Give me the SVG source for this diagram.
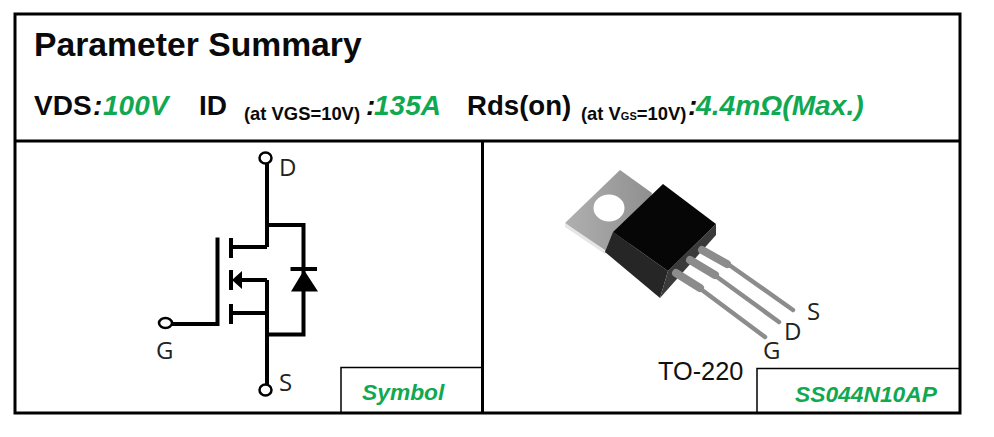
<svg xmlns="http://www.w3.org/2000/svg" width="994" height="437" viewBox="0 0 994 437">
<defs>
<linearGradient id="tab" x1="0" y1="0" x2="1" y2="0"><stop offset="0" stop-color="#b0b0b0"/><stop offset="1" stop-color="#8f8f8f"/></linearGradient>
</defs>
<style>
text{font-family:"Liberation Sans",Arial,sans-serif}
.b{font-weight:700;fill:#0a0a0a}
.g{font-weight:700;font-style:italic;fill:#10a850}
.l{font-family:"Open Sans","Noto Sans",sans-serif;fill:#222;font-size:24px}
.f{fill:none;stroke:#000}
.w{fill:none;stroke:#000;stroke-width:4}
.t{fill:#fff;stroke:#000;stroke-width:2.5}
.lead{fill:none;stroke:#8c8c8c;stroke-linecap:round}
</style>
<rect width="994" height="437" fill="#fff"/>
<g id="frame">
<rect x="15" y="14" width="945" height="399" class="f" stroke-width="3"/>
<path d="M15 141H960M482.500 141V413" class="f" stroke-width="3"/>
<path d="M341 413V367.500H482M757 413V368.500H960" class="f" stroke-width="1.500"/>
</g>
<g id="header">
<text x="34" y="56" class="b" font-size="33.700">Parameter Summary</text>
<text x="34" y="115" class="b" font-size="28">VDS</text>
<text x="93" y="115" class="b" font-size="28" font-style="italic">:</text>
<text x="103" y="115" class="g" font-size="28">100V</text>
<text x="199" y="115" class="b" font-size="28">ID</text>
<text x="244" y="120" class="b" font-size="18.400">(at VGS=10V)</text>
<text x="366" y="115" class="b" font-size="28" font-style="italic">:</text>
<text x="374" y="115" class="g" font-size="28">135A</text>
<text x="467" y="115" class="b" font-size="27.600">Rds(on)</text>
<text x="581" y="120" class="b" font-size="18.400">(at V<tspan font-size="11">GS</tspan>=10V)</text>
<text x="688" y="115" class="b" font-size="28" font-style="italic">:</text>
<text x="696" y="115" class="g" font-size="28.200">4.4mΩ(Max.)</text>
</g>
<g id="connectors">
<path class="w" d="M267 163V247M267 225H303.500V334.500H267M267 247H232.500M267 280H234M267 313H232.500M267 280V385"/>
<path class="w" d="M217.500 237.500V324H172"/>
<path class="w" d="M231 238V258M231 270V290M231 304V324"/>
<path class="w" d="M290.500 269H317"/>
</g>
<g id="symbol">
<path d="M232 280L242 271V289Z M304 270L318 291.500H291Z" fill="#000"/>
<ellipse id="node-d" class="t" cx="265.500" cy="158" rx="6" ry="5.500"/>
<ellipse id="node-g" class="t" cx="165.500" cy="323" rx="6.500" ry="5"/>
<ellipse id="node-s" class="t" cx="265.500" cy="390" rx="6" ry="5.500"/>
<text x="279" y="176" class="l">D</text>
<text x="156" y="359" class="l">G</text>
<text x="279" y="391" class="l">S</text>
</g>
<g id="transistor">
<path d="M565 223L620 170L652 193L640 240L605 253Z" fill="url(#tab)"/>
<path d="M565 223L605 250V254L565 227Z" fill="#e6e6e6"/>
<ellipse cx="609" cy="208" rx="15.500" ry="13.500" fill="#fff"/>
<path d="M613 232L605 252L660 298L668 271Z" fill="#262626"/>
<path d="M716 224V235L660 298L668 271Z" fill="#3a3a3a"/>
<path d="M613 232L663 184L716 224L668 271Z" fill="#060606"/>
<g class="lead">
<path d="M702 250L727 264" stroke-width="8"/><path d="M725 262L793 310" stroke-width="4.500"/>
<path d="M690 260L715 275" stroke-width="8"/><path d="M713 274L779 322" stroke-width="4.500"/>
<path d="M676 273L700 288" stroke-width="8"/><path d="M698 287L765 337" stroke-width="4.500"/>
</g>
<text x="807" y="320" class="l">S</text>
<text x="784" y="340" class="l">D</text>
<text x="763" y="359" class="l">G</text>
</g>
<g id="labels">
<text x="658" y="380" font-size="25.300" fill="#111">TO-220</text>
<text x="362" y="400" class="g" font-size="22.800">Symbol</text>
<text x="795" y="402" class="g" font-size="22.800">SS044N10AP</text>
</g>
</svg>
